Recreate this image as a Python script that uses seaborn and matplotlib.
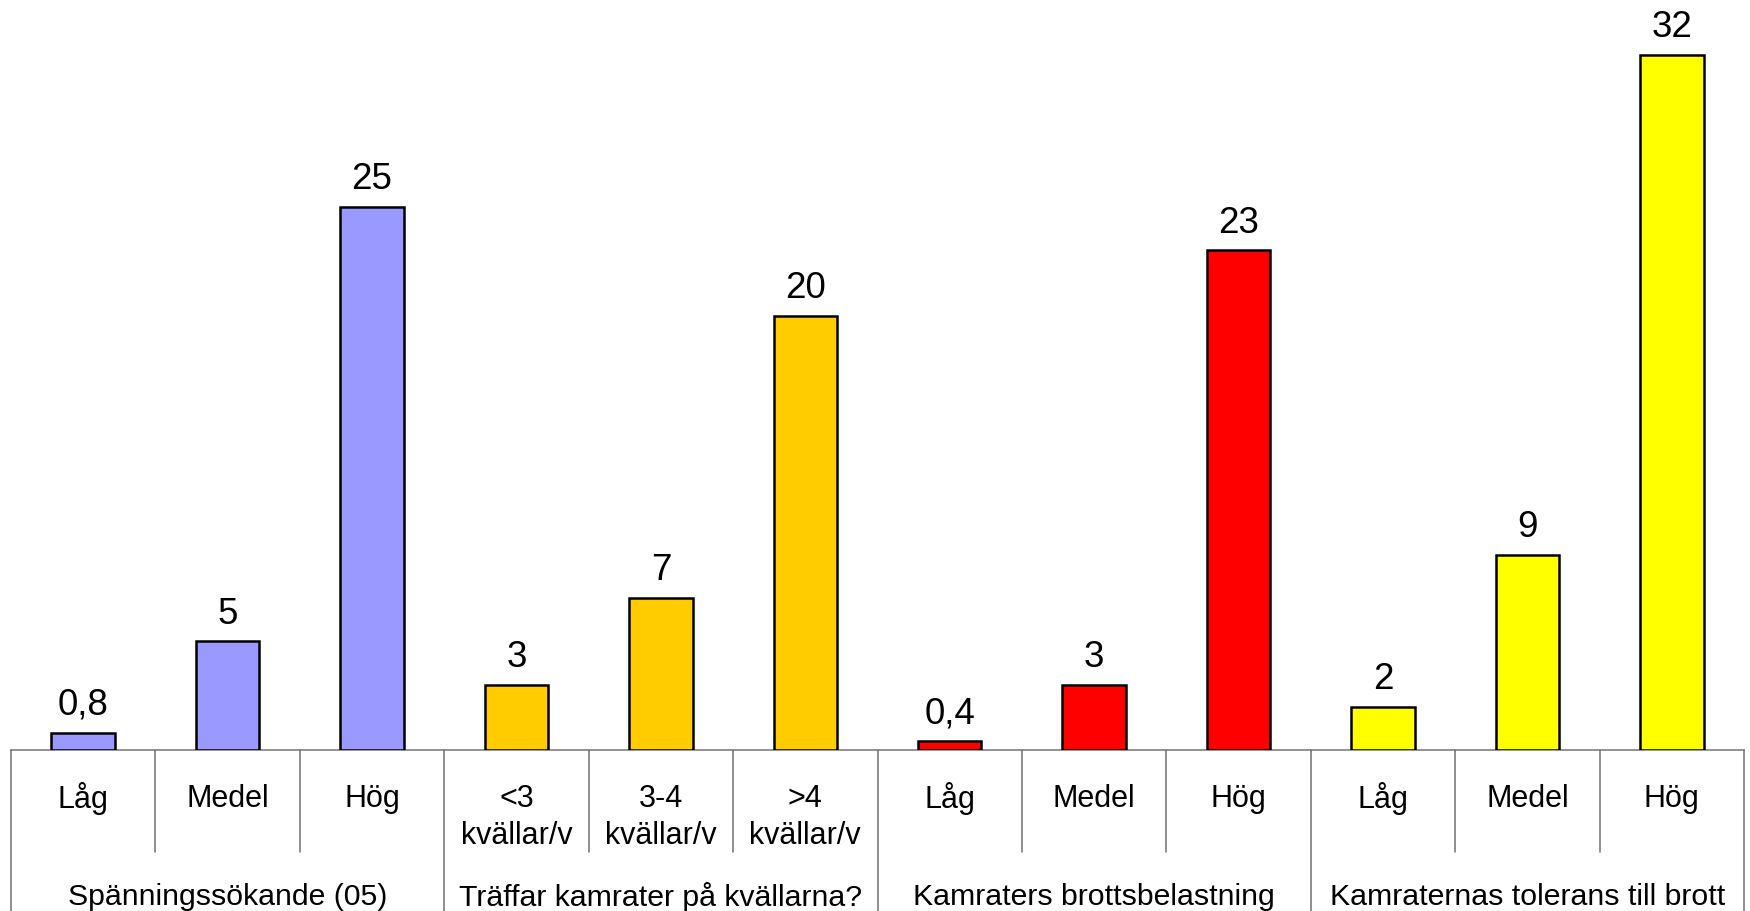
import matplotlib
matplotlib.use("Agg")
import matplotlib.pyplot as plt
import seaborn as sns
import pandas as pd

# data
groups = ["Spänningssökande (05)", "Träffar kamrater på kvällarna?",
          "Kamraters brottsbelastning", "Kamraternas tolerans till brott"]
sub_labels = [["Låg", "Medel", "Hög"],
              ["<3\nkvällar/v", "3-4\nkvällar/v", ">4\nkvällar/v"],
              ["Låg", "Medel", "Hög"],
              ["Låg", "Medel", "Hög"]]
values = [[0.8, 5, 25],
          [3, 7, 20],
          [0.4, 3, 23],
          [2, 9, 32]]
colors = ["#9999FF", "#FFCC00", "#FF0000", "#FFFF00"]

rows = []
slot = 0
for g, labs, vals in zip(groups, sub_labels, values):
    for lab, v in zip(labs, vals):
        rows.append({"slot": slot, "group": g, "label": lab, "value": v})
        slot += 1
df = pd.DataFrame(rows)

sns.set_style("white")
plt.rcParams["font.family"] = ["Liberation Sans", "DejaVu Sans"]
plt.rcParams["text.color"] = "black"
FS = 22

fig = plt.figure(figsize=(17.5, 9.12), dpi=100)
ax = fig.add_axes([11 / 1750, 161 / 912, 1733 / 1750, 751 / 912])

sns.barplot(data=df, x="slot", y="value", hue="group", palette=colors,
            saturation=1, dodge=False, width=0.44, edgecolor="black",
            linewidth=1.8, legend=False, ax=ax)

ax.set_xlim(-0.5, len(df) - 0.5)
ax.set_ylim(0, 32 * 751 / 695)
ax.set_xticks([])
ax.set_yticks([])
ax.set_xlabel("")
ax.set_ylabel("")
for side in ["top", "right", "left"]:
    ax.spines[side].set_visible(False)
ax.spines["bottom"].set_color("#808080")
ax.spines["bottom"].set_linewidth(1.2)
ax.spines["bottom"].set_zorder(0)

# value labels
for _, r in df.iterrows():
    v = r["value"]
    txt = str(int(v)) if float(v).is_integer() else str(v).replace(".", ",")
    ax.annotate(txt, (r["slot"], v), xytext=(0, 13.5), textcoords="offset points",
                ha="center", va="baseline", fontsize=26.5, color="black")

tr = ax.get_xaxis_transform()
h = 751.0
# sub-category labels
for _, r in df.iterrows():
    lines = r["label"].split("\n")
    for i, line in enumerate(lines):
        ax.text(r["slot"], -(48 + 37 * i) / h, line, transform=tr,
                ha="center", va="center", fontsize=FS, color="black")

# group labels
for gi, g in enumerate(groups):
    ax.text(gi * 3 + 1, -146 / h, g, transform=tr, ha="center", va="center",
            fontsize=21.8, color="black")

# separators
for b in range(len(df) + 1):
    x = b - 0.5
    y_end = -161 / h if b % 3 == 0 else -102 / h
    ax.plot([x, x], [0, y_end], transform=tr, color="#707070", lw=1.1,
            clip_on=False)

fig.savefig("out.png", dpi=100)
